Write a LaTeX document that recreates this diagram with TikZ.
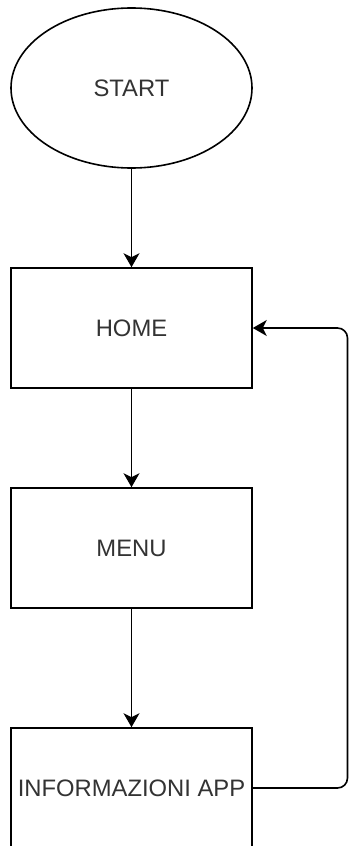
\documentclass[tikz,border=0pt]{standalone}
\usepackage{fontspec}
\setmainfont{Liberation Sans}
\usetikzlibrary{shapes.geometric,arrows.meta}

\definecolor{textgray}{HTML}{333333}

\tikzset{
    block/.style={draw, line width=1.6pt, minimum width=241pt, minimum height=120pt, text=textgray, font=\fontsize{23.8}{26}\selectfont, inner sep=0pt},
    startnode/.style={block, ellipse, minimum width=241pt, minimum height=160pt},
    flow/.style={line width=1.6pt, -{Stealth[length=14pt, width=16pt, inset=4pt]}}
}

\begin{document}
\begin{tikzpicture}[x=1pt,y=1pt]
            \clip (0,0) rectangle (349,-846);
            \fill[white] (0,0) rectangle (349,-846);
            \node[startnode] (start) at (131.5,-88) {START};
            \node[block] (home) at (131.5,-328) {HOME};
            \node[block] (menu) at (131.5,-548) {MENU};
            \node[block] (info) at (131.5,-788) {INFORMAZIONI APP};
            \coordinate (loop) at (347.5,-500);
            \draw[flow] (start) -- (home);
            \draw[flow] (home) -- (menu);
            \draw[flow] (menu) -- (info);
            \draw[flow, rounded corners=10pt] (info.east) -- (info.east -| loop) -- (home.east -| loop) -- (home.east);
        \end{tikzpicture}
\end{document}
